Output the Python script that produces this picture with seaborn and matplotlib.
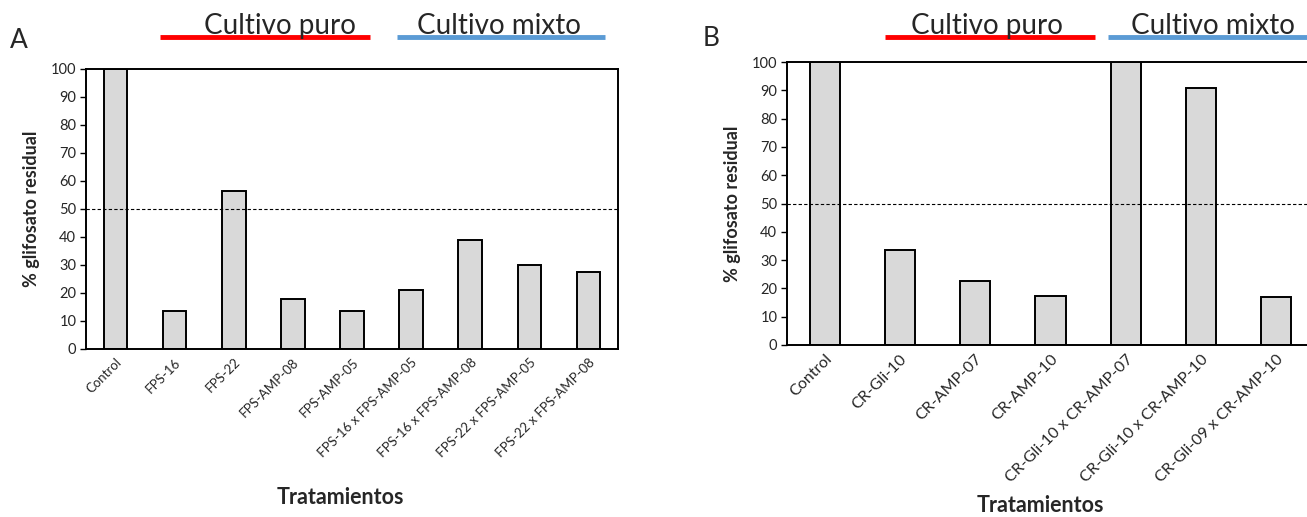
import numpy as np
import pandas as pd
import matplotlib
matplotlib.use("Agg")
import matplotlib.pyplot as plt
from matplotlib.lines import Line2D
import seaborn as sns

# DATA
trat_a = ["Control", "FPS-16", "FPS-22", "FPS-AMP-08", "FPS-AMP-05",
          "FPS-16 x FPS-AMP-05", "FPS-16 x FPS-AMP-08",
          "FPS-22 x FPS-AMP-05", "FPS-22 x FPS-AMP-08"]
resid_a = [100, 13.5, 56.3, 17.7, 13.5, 21.1, 38.9, 30.1, 27.6]

trat_b = ["Control", "CR-Gli-10", "CR-AMP-07", "CR-AMP-10",
          "CR-Gli-10 x CR-AMP-07", "CR-Gli-10 x CR-AMP-10",
          "CR-Gli-09 x CR-AMP-10"]
resid_b = [100, 33.7, 22.5, 17.3, 100, 90.7, 16.9]

yticks = list(range(0, 101, 10))
ylabel = "% glifosato residual"
xlabel = "Tratamientos"

sns.set_style("white")
plt.rcParams['font.family'] = ['Lato', 'DejaVu Sans']

W, H = 1307, 517
fig = plt.figure(figsize=(W / 100, H / 100), dpi=100)


def px_axes(left, top, right, bottom):
    return fig.add_axes([left / W, 1 - bottom / H, (right - left) / W, (bottom - top) / H])


def panel(ax, cats, vals, xsize):
    df = pd.DataFrame({"trat": cats, "val": vals})
    sns.barplot(data=df, x="trat", y="val", ax=ax, color="#d9d9d9",
                edgecolor="black", linewidth=1.4, width=0.4, saturation=1)
    # 50 % reference line, drawn over the bars
    ax.axhline(50, color="black", lw=0.8, ls=(0, (3, 2)), zorder=5)
    ax.set_xlim(-0.5, len(cats) - 0.5)
    ax.set_ylim(0, 100)
    ax.set_yticks(yticks)
    ax.tick_params(axis="y", length=4, width=1, color="black", labelsize=10.5,
                   direction="out", left=True, pad=3)
    ax.tick_params(axis="x", length=0, labelsize=xsize, pad=5)
    plt.setp(ax.get_xticklabels(), rotation=45, ha="right", rotation_mode="anchor")
    for s in ax.spines.values():
        s.set_color("black")
        s.set_linewidth(1.4)
    ax.set_xlabel("")
    ax.set_ylabel(ylabel, fontsize=13, fontweight="bold", labelpad=8)


ax_a = px_axes(86, 69, 618, 349)
panel(ax_a, trat_a, resid_a, 9.5)
ax_b = px_axes(787, 62, 1314, 345)
panel(ax_b, trat_b, resid_b, 11.5)

# panel letters
fig.text(10 / W, 1 - 40 / H, "A", fontsize=19, va="center", ha="left")
fig.text(703 / W, 1 - 38 / H, "B", fontsize=19, va="center", ha="left")

# group headers
headers = [
    (160, 370, 37, "#ff0000", "Cultivo puro", 280),
    (397, 605, 37, "#5b9bd5", "Cultivo mixto", 499),
    (885, 1095, 37, "#ff0000", "Cultivo puro", 987),
    (1108, 1310, 37, "#5b9bd5", "Cultivo mixto", 1213),
]
for x0, x1, y, col, txt, xc in headers:
    fig.add_artist(Line2D([x0 / W, x1 / W], [1 - y / H, 1 - y / H],
                          color=col, lw=3.5, solid_capstyle="butt"))
    fig.text(xc / W, 1 - 34 / H, txt, fontsize=20, ha="center", va="baseline", zorder=5)

fig.text(340 / W, 1 - 497 / H, xlabel, fontsize=15.5, fontweight="bold",
         ha="center", va="center")
fig.text(1040 / W, 1 - 505 / H, xlabel, fontsize=15.5, fontweight="bold",
         ha="center", va="center")

fig.savefig("out.png", dpi=100)
